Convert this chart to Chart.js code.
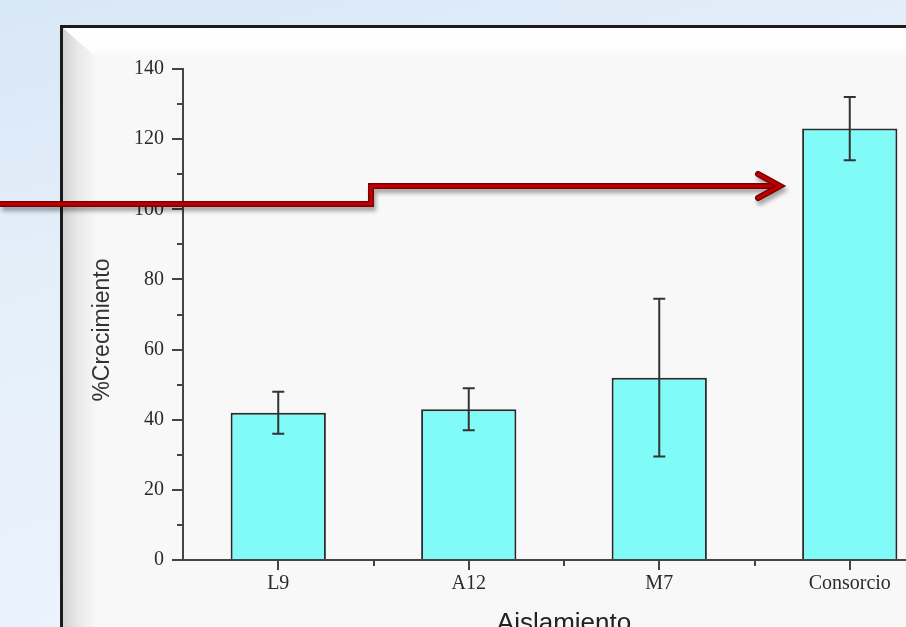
<!DOCTYPE html>
<html>
<head>
<meta charset="utf-8">
<script src="https://cdn.jsdelivr.net/npm/chart.js@4"></script>
<style>
  html, body { margin: 0; padding: 0; width: 906px; height: 627px; overflow: hidden; }
  body { background: linear-gradient(165deg, #d8e7f6 0%, #e6f0fa 40%, #eef5fc 100%); position: relative; }
  .panel {
    position: absolute; left: 60px; top: 25px; width: 960px; height: 700px;
    border: 3px solid #1c1c1c; background: #f8f8f8; box-sizing: border-box;
  }
  .panel .top {
    position: absolute; left: 0; top: 0; right: 0; height: 30px;
    background: linear-gradient(to bottom, #ffffff 0%, #fdfdfd 70%, #f8f8f8 100%);
  }
  .panel .left {
    position: absolute; left: 0; top: 0; bottom: 0; width: 34px;
    background: linear-gradient(to right, #d2d2d2 0%, #e9e9e9 45%, #f8f8f8 100%);
    clip-path: polygon(0 0, 100% 30px, 100% 100%, 0 100%);
  }
  .wrap { position: absolute; left: 0; top: 0; width: 1000px; height: 660px; }
  svg.arrow { position: absolute; left: 0; top: 0; filter: drop-shadow(2px 4px 2px rgba(0,0,0,0.35)); }
</style>
</head>
<body>
<div class="panel"><div class="top"></div><div class="left"></div></div>
<div class="wrap"><canvas id="myChart" width="1000" height="660"></canvas></div>
<svg class="arrow" width="906" height="627">
  <g fill="none" stroke-linejoin="miter" stroke-linecap="butt">
    <polyline points="0,204 371,204 371,186 778,186" stroke="#7d0000" stroke-width="6"/>
    <polyline points="0,204 371,204 371,186 778,186" stroke="#c00000" stroke-width="3"/>
    <polyline points="758,174 780,186 758,198" stroke="#7d0000" stroke-width="6" stroke-linecap="round"/>
    <polyline points="758,174 780,186 758,198" stroke="#c00000" stroke-width="3" stroke-linecap="round"/>
  </g>
</svg>
<script>
const categories = ['L9', 'A12', 'M7', 'Consorcio'];
const growth = [42, 43, 52, 123];
const growthErr = [6, 6, 22.5, 9];
const yMinorTicks = [10, 30, 50, 70, 90, 110, 130];
const yTitle = '%Crecimiento';

// error bars, minor tick marks and the y title, drawn through the chart scales
const extras = {
    id: 'extras',
    afterDatasetsDraw(chart) {
        const ctx = chart.ctx;
        const y = chart.scales.y;
        const meta = chart.getDatasetMeta(0);
        ctx.save();
        ctx.strokeStyle = '#333';
        ctx.lineWidth = 2;
        meta.data.forEach(function(bar, i) {
            const top = y.getPixelForValue(growth[i] + growthErr[i]);
            const bot = y.getPixelForValue(growth[i] - growthErr[i]);
            ctx.beginPath();
            ctx.moveTo(bar.x, top); ctx.lineTo(bar.x, bot);
            ctx.moveTo(bar.x - 6, top); ctx.lineTo(bar.x + 6, top);
            ctx.moveTo(bar.x - 6, bot); ctx.lineTo(bar.x + 6, bot);
            ctx.stroke();
        });
        ctx.restore();
    },
    afterDraw(chart) {
        const ctx = chart.ctx;
        const x = chart.scales.x;
        const y = chart.scales.y;
        const area = chart.chartArea;
        ctx.save();
        ctx.strokeStyle = '#444';
        ctx.lineWidth = 2;
        ctx.beginPath();
        yMinorTicks.forEach(function(v) {
            const py = Math.round(y.getPixelForValue(v));
            ctx.moveTo(area.left - 6, py); ctx.lineTo(area.left, py);
        });
        for (let i = 1; i < categories.length; i++) {
            const px = Math.round((x.getPixelForValue(i - 1) + x.getPixelForValue(i)) / 2);
            ctx.moveTo(px, area.bottom); ctx.lineTo(px, area.bottom + 6);
        }
        ctx.stroke();

        // y title sits a little below the middle of the axis, as in the source figure
        ctx.translate(103, y.getPixelForValue(65) - 2);
        ctx.rotate(-Math.PI / 2);
        ctx.fillStyle = '#333';
        ctx.font = '23px "Liberation Sans"';
        ctx.textAlign = 'center';
        ctx.textBaseline = 'middle';
        ctx.fillText(yTitle, 0, 0);
        ctx.restore();
    }
};

const ctx = document.getElementById('myChart').getContext('2d');
new Chart(ctx, {
    type: 'bar',
    data: {
        labels: categories,
        datasets: [{
            data: growth,
            backgroundColor: '#80fbf7',
            borderColor: '#2a2a2a',
            borderWidth: 2,
            categoryPercentage: 1,
            barPercentage: 0.5
        }]
    },
    options: {
        responsive: false,
        animation: false,
        layout: { padding: { top: 69, right: 55, left: 0, bottom: 0 } },
        plugins: { legend: { display: false }, tooltip: { enabled: false } },
        scales: {
            x: {
                afterFit: function(s) { s.height = 100; },
                grid: { offset: false, drawOnChartArea: false, tickLength: 10, color: '#444', lineWidth: 2 },
                border: { color: '#444', width: 2 },
                ticks: { padding: 2, color: '#2a2a2a', font: { family: 'Liberation Serif', size: 20 } },
                title: { display: true, text: 'Aislamiento', color: '#222',
                         font: { family: 'Liberation Sans', size: 26 }, padding: { top: 0, bottom: 21 } }
            },
            y: {
                min: 0, max: 140,
                afterFit: function(s) { s.width = 183; },
                grid: { drawOnChartArea: false, tickLength: 11, color: '#444', lineWidth: 2 },
                border: { color: '#444', width: 2 },
                ticks: { stepSize: 20, padding: 8, color: '#2a2a2a', font: { family: 'Liberation Serif', size: 20 } }
            }
        }
    },
    plugins: [extras]
});
</script>
</body>
</html>
